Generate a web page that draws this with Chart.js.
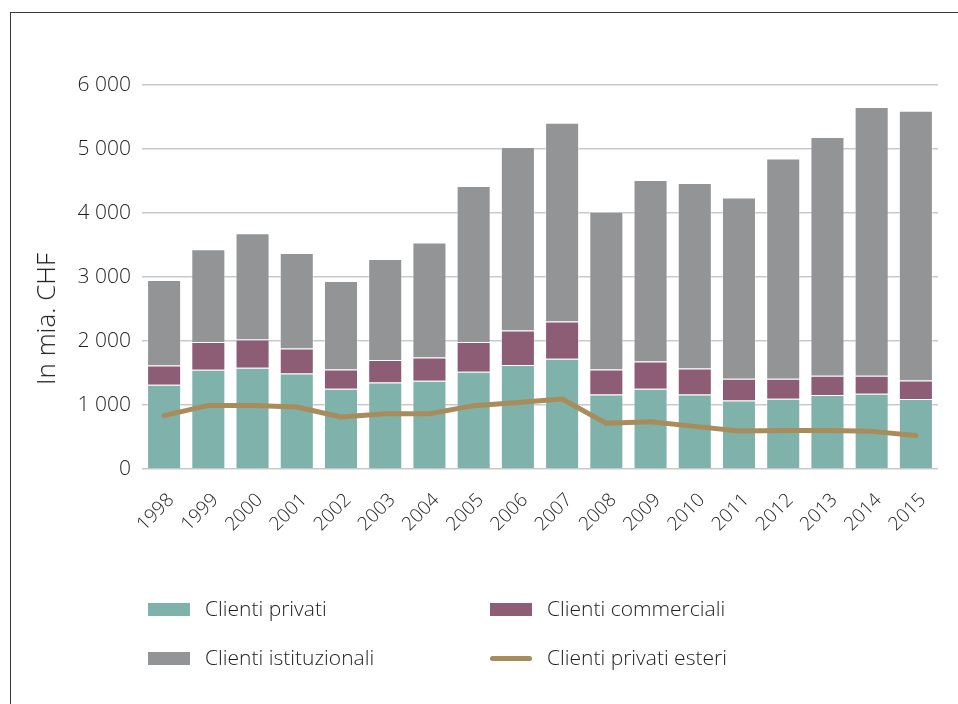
<!DOCTYPE html>
<html>
<head>
<meta charset="utf-8">
<script src="https://cdn.jsdelivr.net/npm/chart.js@4"></script>
<style>
  body { margin: 0; background: #fff; font-family: "Open Sans", sans-serif; }
  .wrap { position: relative; width: 958px; height: 704px; overflow: hidden; }
  .frame { position: absolute; left: 10px; top: 12px; right: -5px; bottom: -5px;
           border-top: 1.5px solid #3a3a3a; border-left: 1.5px solid #3a3a3a; }
  canvas { position: absolute; left: 0; top: 0; }
  .ytitle { position: absolute; left: 45px; top: 319px; font-size: 26px; font-weight: 300;
            color: #1e1e1e; white-space: nowrap;
            transform: translate(-50%, -50%) rotate(-90deg); }
  .legend { position: absolute; font-size: 21px; font-weight: 300; color: #1e1e1e; }
  .legend .item { position: absolute; white-space: nowrap; }
  .legend .sw { position: absolute; width: 42px; height: 13px; }
  .legend .ln { position: absolute; width: 42px; height: 5px; border-radius: 3px; }
  .legend .tx { position: absolute; top: -9px; }
</style>
</head>
<body>
<div class="wrap">
  <div class="frame"></div>
  <canvas id="myChart" width="958" height="704"></canvas>
  <div class="ytitle">In mia. CHF</div>
  <div class="legend" id="legend"></div>
</div>
<script>
const years = ['1998', '1999', '2000', '2001', '2002', '2003', '2004', '2005', '2006',
  '2007', '2008', '2009', '2010', '2011', '2012', '2013', '2014', '2015'];

// Clienti privati
const privati = [1317, 1551, 1583, 1494, 1255, 1353, 1380, 1520, 1625,
  1723, 1166, 1255, 1166, 1072, 1098, 1156, 1177, 1094];
// Clienti commerciali
const commerciali = [302, 433, 442, 390, 301, 350, 364, 464, 541,
  583, 390, 426, 406, 339, 313, 302, 281, 290];
// Clienti istituzionali
const istituzionali = [1335, 1448, 1657, 1490, 1381, 1577, 1797, 2437, 2864,
  3104, 2464, 2834, 2896, 2833, 3442, 3729, 4197, 4214];
// Clienti privati esteri
const esteri = [833, 994, 992, 969, 812, 864, 864, 990, 1040,
  1094, 713, 739, 666, 594, 603, 603, 588, 525];

const yTicks = [0, 1000, 2000, 3000, 4000, 5000, 6000];

const colTeal = 'rgb(127, 178, 170)';
const colPurple = 'rgb(140, 93, 117)';
const colGray = 'rgb(147, 148, 150)';
const colGold = 'rgb(168, 140, 92)';

const fontFamily = '"Open Sans", sans-serif';

const ctx = document.getElementById('myChart');

new Chart(ctx, {
  type: 'bar',
  data: {
    labels: years,
    datasets: [
      {
        type: 'line',
        label: 'Clienti privati esteri',
        data: esteri,
        borderColor: colGold,
        borderWidth: 5,
        pointRadius: 0,
        tension: 0,
        borderCapStyle: 'round',
        borderJoinStyle: 'round',
        order: 0
      },
      { label: 'Clienti privati', data: privati, backgroundColor: colTeal,
        borderColor: 'rgba(255,255,255,0.35)', borderWidth: 1, order: 1 },
      { label: 'Clienti commerciali', data: commerciali, backgroundColor: colPurple,
        borderColor: 'rgba(255,255,255,0.35)', borderWidth: 1, order: 1 },
      { label: 'Clienti istituzionali', data: istituzionali, backgroundColor: colGray,
        borderColor: 'rgba(255,255,255,0.35)', borderWidth: 1, order: 1 }
    ]
  },
  options: {
    responsive: false,
    animation: false,
    barPercentage: 0.77,
    categoryPercentage: 1,
    layout: { padding: { left: 0, right: 20, top: 85, bottom: 0 } },
    scales: {
      x: {
        stacked: true,
        grid: { display: false },
        border: { display: false },
        ticks: {
          minRotation: 45,
          maxRotation: 45,
          padding: 12,
          labelOffset: 7,
          color: '#1e1e1e',
          font: { family: fontFamily, size: 19, weight: 300 }
        },
        afterFit: function(scale) { scale.height = 235; }
      },
      y: {
        stacked: true,
        min: 0,
        max: 6000,
        afterBuildTicks: function(scale) {
          scale.ticks = yTicks.map(v => ({ value: v }));
        },
        grid: { color: '#c9c9c9', lineWidth: 1.5, drawTicks: false },
        border: { display: false },
        ticks: {
          padding: 11,
          color: '#1e1e1e',
          font: { family: fontFamily, size: 21, weight: 300 },
          callback: function(v) {
            return String(v).replace(/\B(?=(\d{3})+(?!\d))/g, ' ');
          }
        },
        afterFit: function(scale) { scale.width = 142; }
      }
    },
    plugins: {
      legend: { display: false },
      title: { display: false },
      tooltip: { enabled: false }
    }
  }
});

// legend below the chart, two columns
const legendItems = [
  { text: 'Clienti privati', color: colTeal, kind: 'box', x: 148, y: 603 },
  { text: 'Clienti commerciali', color: colPurple, kind: 'box', x: 490, y: 603 },
  { text: 'Clienti istituzionali', color: colGray, kind: 'box', x: 148, y: 652 },
  { text: 'Clienti privati esteri', color: colGold, kind: 'line', x: 490, y: 656 }
];

const legend = document.getElementById('legend');
legendItems.forEach(function(it) {
  let item = document.createElement('div');
  item.className = 'item';
  item.style.left = it.x + 'px';
  item.style.top = it.y + 'px';
  let sw = document.createElement('div');
  sw.className = it.kind == 'box' ? 'sw' : 'ln';
  sw.style.background = it.color;
  let tx = document.createElement('div');
  tx.className = 'tx';
  tx.style.left = '57px';
  if (it.kind == 'line') tx.style.top = '-13px';
  tx.textContent = it.text;
  item.appendChild(sw);
  item.appendChild(tx);
  legend.appendChild(item);
});
</script>
</body>
</html>
